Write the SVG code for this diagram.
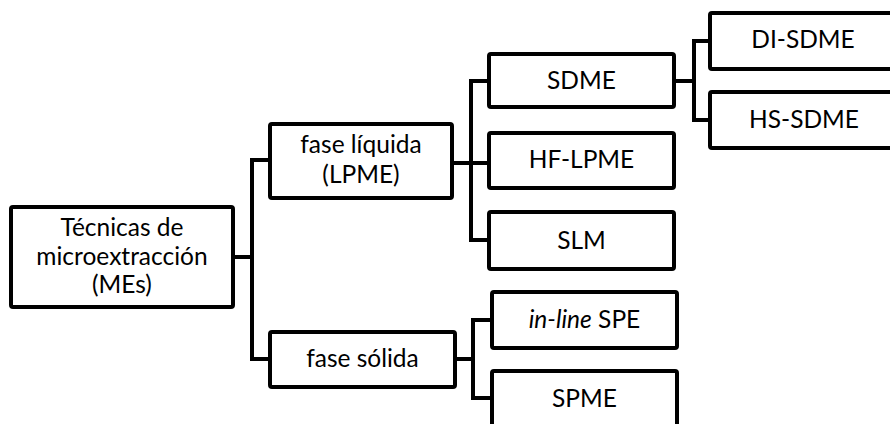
<svg xmlns="http://www.w3.org/2000/svg" width="890" height="424" viewBox="0 0 890 424">
<style>
.box{fill:#fff;stroke:#000;stroke-width:4;}
.lbl{font-family:Lato,"Open Sans","Liberation Sans",sans-serif;font-size:24.5px;fill:#000;text-anchor:middle;}
.con{fill:none;stroke:#000;stroke-width:4;stroke-linejoin:miter;stroke-linecap:square;}
</style>
<rect width="890" height="424" fill="#fff"/>
<g id="connectors">
<path class="con" d="M233,257 H252"/>
<path class="con" d="M270,160 H252 V359 H270"/>
<path class="con" d="M452,163 H489"/>
<path class="con" d="M489,81 H471 V240 H489"/>
<path class="con" d="M674,81 H694"/>
<path class="con" d="M710,41 H694 V120 H710"/>
<path class="con" d="M455,359 H473"/>
<path class="con" d="M492,320 H473 V398 H492"/>
</g>
<g id="root">
<rect class="box" x="11" y="207" width="222" height="100" rx="2"/>
<text class="lbl" x="122" y="236">Técnicas de</text>
<text class="lbl" x="122" y="265">microextracción</text>
<text class="lbl" x="122" y="293">(MEs)</text>
</g>
<g id="liquida">
<rect class="box" x="270" y="124" width="182" height="74" rx="2"/>
<text class="lbl" x="361" y="153">fase líquida</text>
<text class="lbl" x="361" y="183">(LPME)</text>
</g>
<g id="solida">
<rect class="box" x="270" y="332" width="185" height="55" rx="2"/>
<text class="lbl" x="362.5" y="367">fase sólida</text>
</g>
<g id="sdme">
<rect class="box" x="489" y="54" width="185" height="53" rx="2"/>
<text class="lbl" x="581.5" y="89">SDME</text>
</g>
<g id="hflpme">
<rect class="box" x="489" y="133" width="185" height="55" rx="2"/>
<text class="lbl" x="581.5" y="168">HF-LPME</text>
</g>
<g id="slm">
<rect class="box" x="489" y="212" width="185" height="57" rx="2"/>
<text class="lbl" x="581.5" y="249">SLM</text>
</g>
<g id="disdme">
<rect class="box" x="710" y="13" width="210" height="56" rx="2"/>
<text class="lbl" x="803" y="48">DI-SDME</text>
</g>
<g id="hssdme">
<rect class="box" x="710" y="92" width="210" height="56" rx="2"/>
<text class="lbl" x="804" y="128">HS-SDME</text>
</g>
<g id="inlinespe">
<rect class="box" x="492" y="292" width="185" height="56" rx="2"/>
<text class="lbl" x="584.5" y="328"><tspan font-style="italic">in-line</tspan> SPE</text>
</g>
<g id="spme">
<rect class="box" x="492" y="371" width="185" height="60" rx="2"/>
<text class="lbl" x="584.5" y="407">SPME</text>
</g>
</svg>
